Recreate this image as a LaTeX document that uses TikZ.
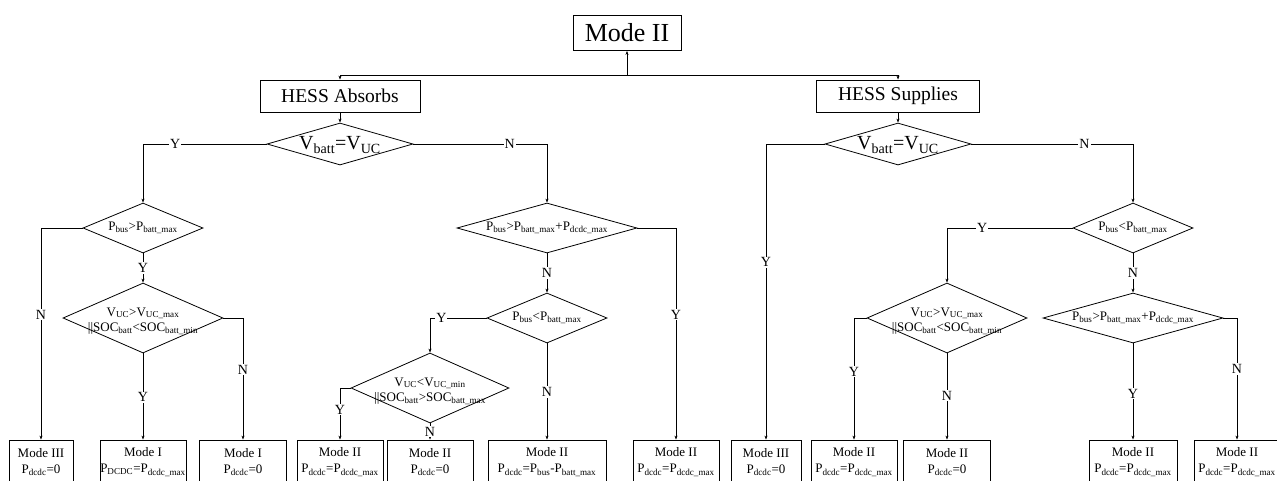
\documentclass[tikz,border=0pt]{standalone}
\usepackage{fontspec}
\setmainfont{Liberation Serif}
\usetikzlibrary{shapes.geometric,arrows.meta}

\newcommand{\sbs}[1]{\textsubscript{#1}}

\begin{document}
\begin{tikzpicture}[x=1pt,y=-1pt,line width=0.8pt,
	blk/.style={draw,rectangle,inner sep=0pt,align=center},
	res/.style={draw,rectangle,inner sep=0pt,align=center,minimum height=44pt,font=\fontsize{13}{16}\selectfont},
	dia/.style={draw,diamond,inner sep=0pt},
	txt/.style={align=center,inner sep=0pt,font=\fontsize{13}{15}\selectfont},
	yn/.style={fill=white,inner sep=1pt,font=\fontsize{14}{14}\selectfont},
	arr/.style={-{Stealth[length=4pt,width=3pt]}}]
	\useasboundingbox (0,0) rectangle (1277,480);

	\node[blk,minimum width=108pt,minimum height=35pt,font=\fontsize{26}{26}\selectfont] (top) at (627,33) {Mode II};
	\node[blk,minimum width=160pt,minimum height=32pt,font=\fontsize{19.5}{20}\selectfont] (abs) at (340,96) {HESS Absorbs};
	\node[blk,minimum width=163pt,minimum height=32pt,font=\fontsize{19.5}{20}\selectfont] (sup) at (898,96) {HESS Supplies};
	\coordinate (split) at (627,75);

	\node[dia,minimum width=146pt,minimum height=42pt] (d1) at (340,144) {};
	\node[txt,font=\fontsize{20}{20}\selectfont] (d1t) at (340,145) {V\sbs{batt}=V\sbs{UC}};
	\node[dia,minimum width=120pt,minimum height=50pt] (d2) at (143,228) {};
	\node[txt] (d2t) at (143,228) {P\sbs{bus}>P\sbs{batt\_max}};
	\node[dia,minimum width=160pt,minimum height=70pt] (d3) at (143,318) {};
	\node[txt] (d3t) at (143,321) {V\sbs{UC}>V\sbs{UC\_max}\\\textbar\textbar SOC\sbs{batt}<SOC\sbs{batt\_min}};
	\node[dia,minimum width=180pt,minimum height=50pt] (d4) at (547,228) {};
	\node[txt] (d4t) at (547,228) {P\sbs{bus}>P\sbs{batt\_max}+P\sbs{dcdc\_max}};
	\node[dia,minimum width=120pt,minimum height=50pt] (d5) at (547,318) {};
	\node[txt] (d5t) at (547,318) {P\sbs{bus}<P\sbs{batt\_max}};
	\node[dia,minimum width=158pt,minimum height=70pt] (d6) at (430,388) {};
	\node[txt] (d6t) at (430,391) {V\sbs{UC}<V\sbs{UC\_min}\\\textbar\textbar SOC\sbs{batt}>SOC\sbs{batt\_max}};

	\node[dia,minimum width=146pt,minimum height=42pt] (d7) at (898,144) {};
	\node[txt,font=\fontsize{20}{20}\selectfont] (d7t) at (898,145) {V\sbs{batt}=V\sbs{UC}};
	\node[dia,minimum width=120pt,minimum height=50pt] (d8) at (1133,228) {};
	\node[txt] (d8t) at (1133,228) {P\sbs{bus}<P\sbs{batt\_max}};
	\node[dia,minimum width=160pt,minimum height=70pt] (d9) at (947,318) {};
	\node[txt] (d9t) at (947,321) {V\sbs{UC}>V\sbs{UC\_max}\\\textbar\textbar SOC\sbs{batt}<SOC\sbs{batt\_min}};
	\node[dia,minimum width=180pt,minimum height=50pt] (d10) at (1133,318) {};
	\node[txt] (d10t) at (1133,318) {P\sbs{bus}>P\sbs{batt\_max}+P\sbs{dcdc\_max}};

	\node[res,minimum width=64pt] (m1) at (41,462) {Mode III\\P\sbs{dcdc}=0};
	\node[res,minimum width=86pt] (m2) at (143,462) {Mode I\\P\sbs{DCDC}=P\sbs{dcdc\_max}};
	\node[res,minimum width=87pt] (m3) at (243,462) {Mode I\\P\sbs{dcdc}=0};
	\node[res,minimum width=86pt] (m4) at (340,462) {Mode II\\P\sbs{dcdc}=P\sbs{dcdc\_max}};
	\node[res,minimum width=86pt] (m5) at (430,462) {Mode II\\P\sbs{dcdc}=0};
	\node[res,minimum width=118pt] (m6) at (547,462) {Mode II\\P\sbs{dcdc}=P\sbs{bus}-P\sbs{batt\_max}};
	\node[res,minimum width=86pt] (m7) at (676,462) {Mode II\\P\sbs{dcdc}=P\sbs{dcdc\_max}};
	\node[res,minimum width=70pt] (m8) at (766,462) {Mode III\\P\sbs{dcdc}=0};
	\node[res,minimum width=86pt] (m9) at (854,462) {Mode II\\P\sbs{dcdc}=P\sbs{dcdc\_max}};
	\node[res,minimum width=87pt] (m10) at (947,462) {Mode II\\P\sbs{dcdc}=0};
	\node[res,minimum width=88pt] (m11) at (1133,462) {Mode II\\P\sbs{dcdc}=P\sbs{dcdc\_max}};
	\node[res,minimum width=86pt] (m12) at (1237,462) {Mode II\\P\sbs{dcdc}=P\sbs{dcdc\_max}};

	\draw[arr] (split) -- (top);
	\draw[arr] (split) -| (abs);
	\draw[arr] (split) -| (sup);
	\draw[arr] (abs) -- (d1);
	\draw[arr] (sup) -- (d7);

	\draw[arr] (d1.west) -| (d2.north) node[yn,pos=0.37] {Y};
	\draw[arr] (d1.east) -| (d4.north) node[yn,pos=0.36] {N};
	\draw[arr] (d2.west) -| (m1.north) node[yn,pos=0.705] {N};
	\draw[arr] (d2.south) -- (d3.north) node[yn,midway] {Y};
	\draw[arr] (d3.south) -- (m2.north) node[yn,pos=0.51] {Y};
	\draw[arr] (d3.east) -| (m3.north) node[yn,pos=0.713] {N};
	\draw[arr] (d4.east) -| (m7.north) node[yn,pos=0.705] {Y};
	\draw[arr] (d4.south) -- (d5.north) node[yn,midway] {N};
	\draw[arr] (d5.west) -| (d6.north) node[yn,pos=0.4] {Y};
	\draw[arr] (d5.south) -- (m6.north) node[yn,pos=0.505] {N};
	\draw[arr] (d6.west) -| (m4.north) node[yn,pos=0.71] {Y};
	\draw[arr] (d6.south) -- (m5.north) node[yn,midway] {N};

	\draw[arr] (d7.west) -| (m8.north) node[yn,pos=0.7] {Y};
	\draw[arr] (d7.east) -| (d8.north) node[yn,pos=0.35] {N};
	\draw[arr] (d8.west) -| (d9.north) node[yn,pos=0.36] {Y};
	\draw[arr] (d8.south) -- (d10.north) node[yn,midway] {N};
	\draw[arr] (d9.west) -| (m9.north) node[yn,pos=0.72] {Y};
	\draw[arr] (d9.south) -- (m10.north) node[yn,pos=0.49] {N};
	\draw[arr] (d10.east) -| (m12.north) node[yn,pos=0.71] {N};
	\draw[arr] (d10.south) -- (m11.north) node[yn,pos=0.52] {Y};
\end{tikzpicture}
\end{document}
